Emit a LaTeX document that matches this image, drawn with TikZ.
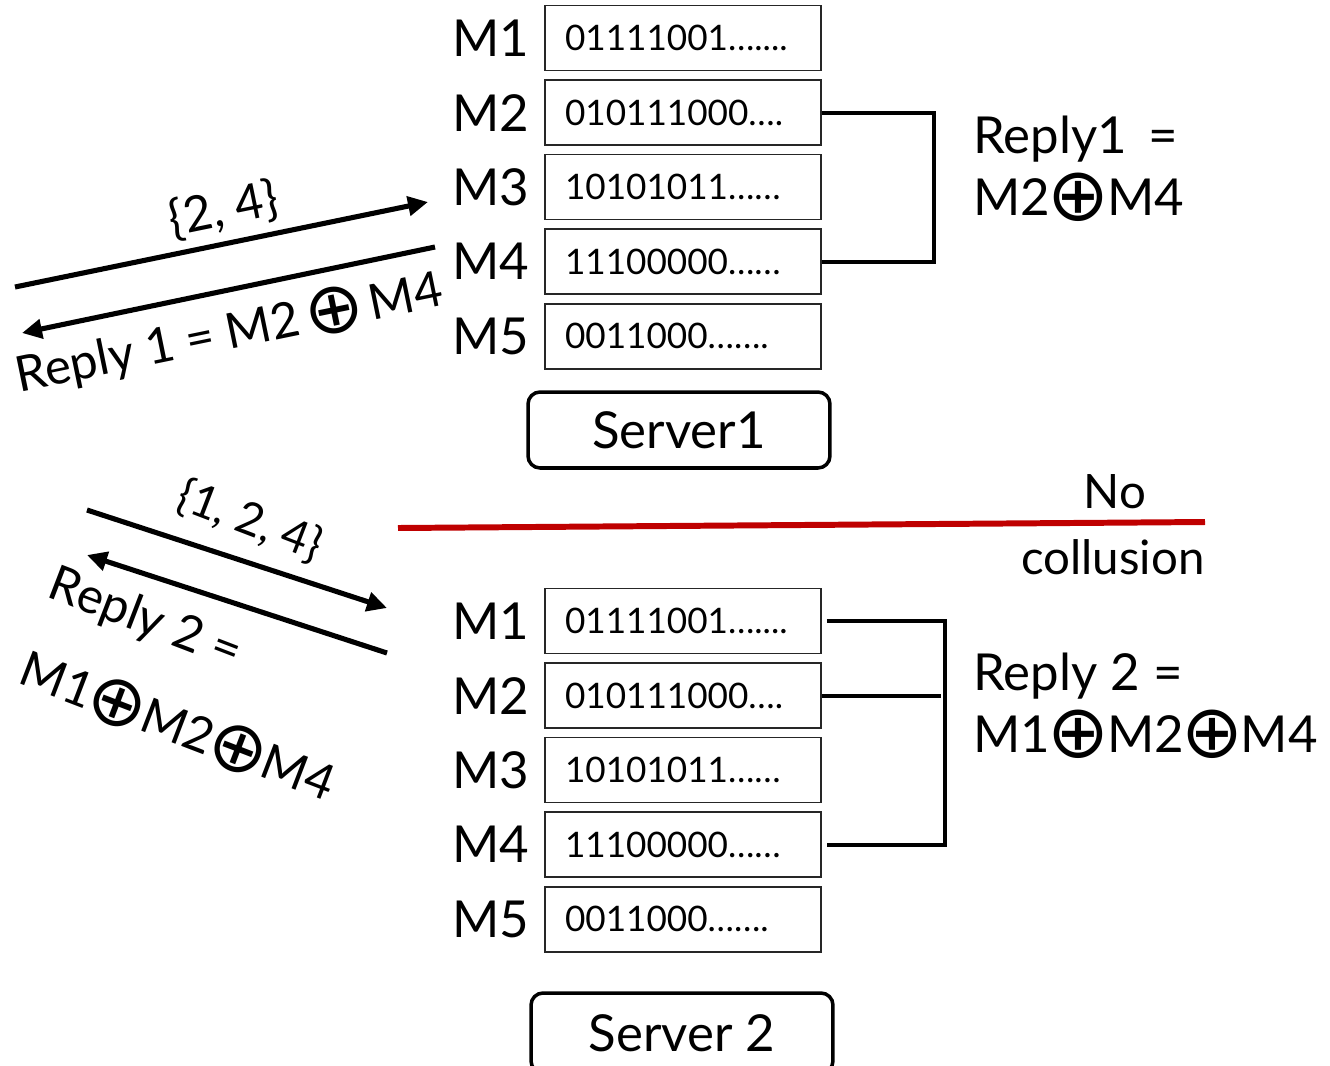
\documentclass[tikz,border=0pt]{standalone}
\usepackage{fontspec}
\setmainfont{Lato}
\newfontfamily\symfont{DejaVu Sans}
\usetikzlibrary{positioning,arrows.meta}
\newcommand{\xorop}{\kern-0.05em\raisebox{-0.1em}{\scalebox{1.45}{\symfont ⊕}}\kern-0.05em}
\tikzset{
  msgbox/.style={draw=black!85, line width=0.9pt, minimum height=1.3cm, text width=4.72cm, inner xsep=0.4cm, inner ysep=0pt, align=left, font=\fontsize{20}{24}\selectfont},
  mlabel/.style={inner sep=0pt, font=\fontsize{29}{36}\selectfont},
  srvbox/.style={draw=black, line width=2pt, rounded corners=0.24cm, minimum width=6.04cm, minimum height=1.52cm, font=\fontsize{29}{34}\selectfont},
  xorbus/.style={line width=2.3pt, draw=black},
  qarrow/.style={line width=2.9pt, -{Triangle[length=0.4cm,width=0.38cm]}},
  cutline/.style={line width=3.4pt, draw=red!75!black},
  reply/.style={inner sep=0pt, anchor=base west, font=\fontsize{29}{36}\selectfont},
  slanted/.style={inner sep=0pt, font=\fontsize{28}{32}\selectfont},
}

\begin{document}
\begin{tikzpicture}[x=0.02cm, y=-0.02cm]
\useasboundingbox (0,0) rectangle (1330,1066);

% server 1
\node[msgbox] (sa1) at (683,38) {01111001…....};
\node[msgbox, below=0.16cm of sa1] (sa2) {010111000….};
\node[msgbox, below=0.16cm of sa2] (sa3) {10101011……};
\node[msgbox, below=0.16cm of sa3] (sa4) {11100000……};
\node[msgbox, below=0.16cm of sa4] (sa5) {0011000…….};
\node[mlabel, left=0.3cm of sa1] (la1) {M1};
\node[mlabel, left=0.3cm of sa2] (la2) {M2};
\node[mlabel, left=0.3cm of sa3] (la3) {M3};
\node[mlabel, left=0.3cm of sa4] (la4) {M4};
\node[mlabel, left=0.3cm of sa5] (la5) {M5};
\node[srvbox] (srv1) at (679,430) {Server1};

\draw[xorbus] (sa2.east) -- ++(112,0) |- (sa4.east);
\node[reply] (rep1a) at (973,153) {Reply1 \,=};
\node[reply] (rep1b) at (973,215) {M2\xorop M4};

% server 2
\node[msgbox] (sb1) at (683,621) {01111001…....};
\node[msgbox, below=0.16cm of sb1] (sb2) {010111000….};
\node[msgbox, below=0.16cm of sb2] (sb3) {10101011……};
\node[msgbox, below=0.16cm of sb3] (sb4) {11100000……};
\node[msgbox, below=0.16cm of sb4] (sb5) {0011000…….};
\node[mlabel, left=0.3cm of sb1] (lb1) {M1};
\node[mlabel, left=0.3cm of sb2] (lb2) {M2};
\node[mlabel, left=0.3cm of sb3] (lb3) {M3};
\node[mlabel, left=0.3cm of sb4] (lb4) {M4};
\node[mlabel, left=0.3cm of sb5] (lb5) {M5};
\node[srvbox, minimum height=1.6cm] (srv2) at (682,1033) {Server 2};

\draw[xorbus] ([xshift=0.1cm]sb1.east) -- ++(118,0) |- ([xshift=0.1cm]sb4.east);
\draw[xorbus] (sb2.east) -- ++(119,0);
\node[reply] (rep2a) at (973,690) {Reply 2 =};
\node[reply] (rep2b) at (973,752) {M1\xorop M2\xorop M4};

% no collusion
\coordinate (cutl) at (398,528);
\coordinate (cutr) at (1205,522);
\draw[cutline] (cutl) -- (cutr);
\node[slanted, font=\fontsize{27}{32}\selectfont] (nocol1) at (1115,492) {No};
\node[slanted, font=\fontsize{27}{32}\selectfont] (nocol2) at (1113,557) {collusion};

% queries and replies
\coordinate (q1s) at (15,287);
\coordinate (q1e) at (428,202);
\coordinate (a1s) at (435,247);
\coordinate (a1e) at (22,333);
\draw[qarrow] (q1s) -- (q1e);
\draw[qarrow] (a1s) -- (a1e);
\node[slanted, rotate=11.6] (qry1) at (224,210) {\{2, 4\}};
\node[slanted, rotate=11.6] (ans1) at (229,333) {Reply 1 = M2\,\xorop\,M4};

\coordinate (q2s) at (87,510);
\coordinate (q2e) at (387,608);
\coordinate (a2s) at (387,653);
\coordinate (a2e) at (87,555);
\draw[qarrow] (q2s) -- (q2e);
\draw[qarrow] (a2s) -- (a2e);
\node[slanted, rotate=-21, font=\fontsize{26}{30}\selectfont] (qry2) at (250,521) {\{1, 2, 4\}};
\node[slanted, rotate=-21] (ans2a) at (145,620) {Reply 2 =};
\node[slanted, rotate=-21] (ans2b) at (178,726) {M1\xorop M2\xorop M4};
\end{tikzpicture}
\end{document}
